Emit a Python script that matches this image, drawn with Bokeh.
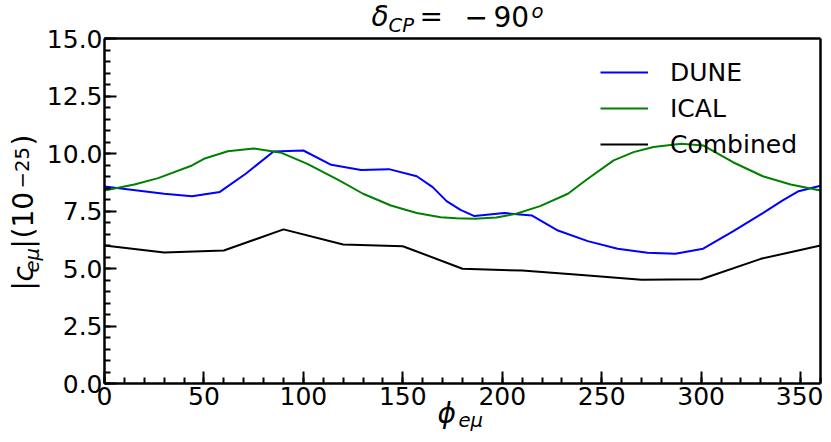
import math
from bokeh.plotting import figure
from bokeh.models import (Range1d, SingleIntervalTicker, FixedTicker, PrintfTickFormatter,
                          Label, Legend, LegendItem, LinearAxis)
from bokeh.embed import file_html
from bokeh.resources import INLINE

# ---------------- data ----------------
phi_dune = [0, 30, 44, 58, 71, 85, 100, 114, 129, 143, 157, 165, 172, 179, 186,
            201, 215, 228, 243, 258, 273, 287, 301, 316, 331, 341, 349, 360]
c_dune = [8.57, 8.25, 8.14, 8.33, 9.12, 10.09, 10.13, 9.51, 9.28, 9.32, 9.01, 8.54, 7.93, 7.55, 7.28,
          7.41, 7.30, 6.65, 6.19, 5.86, 5.68, 5.64, 5.86, 6.61, 7.41, 7.96, 8.36, 8.60]

phi_ical = [0, 15, 27, 44, 50, 62, 75, 89, 102, 118, 130, 144, 157, 169, 177, 186,
            197, 207, 219, 233, 243, 256, 266, 276, 290, 301, 316, 331, 345, 360]
c_ical = [8.39, 8.65, 8.93, 9.48, 9.77, 10.10, 10.22, 10.03, 9.55, 8.83, 8.25, 7.74, 7.41, 7.23, 7.19, 7.16,
          7.22, 7.38, 7.71, 8.25, 8.90, 9.70, 10.06, 10.28, 10.42, 10.35, 9.62, 9.01, 8.65, 8.39]

phi_comb = [0, 30, 60, 90, 120, 150, 180, 210, 240, 270, 300, 330, 360]
c_comb = [6.00, 5.70, 5.78, 6.70, 6.04, 5.97, 4.99, 4.91, 4.72, 4.51, 4.53, 5.42, 6.00]

series_names = ["DUNE", "ICAL", "Combined"]
series_colors = ["#0000ff", "#008000", "#000000"]

x_lo, x_hi = 0, 360
y_lo, y_hi = 0, 15

FONT = "DejaVu Sans"

# ---------------- canvas / mapping ----------------
W, H = 823, 434
AX_L, AX_R, AX_T, AX_B = 104, 820, 38, 383          # data box position on the canvas (px)
sx = (AX_R - AX_L) / (x_hi - x_lo)
sy = (AX_B - AX_T) / (y_hi - y_lo)
xr = Range1d(x_lo - AX_L / sx, x_lo + (W - AX_L) / sx)
yr = Range1d(y_lo - (H - AX_B) / sy, y_lo + AX_B / sy)

p = figure(width=W, height=H, output_backend="svg", toolbar_location=None,
           x_range=xr, y_range=yr, x_axis_type=None, y_axis_type=None,
           min_border=0, min_border_left=0, min_border_right=0,
           min_border_top=0, min_border_bottom=0)
p.title.visible = False
p.background_fill_color = "white"
p.border_fill_color = "white"
p.outline_line_color = None
p.grid.visible = False

r_dune = p.line(phi_dune, c_dune, line_color=series_colors[0], line_width=2)
r_ical = p.line(phi_ical, c_ical, line_color=series_colors[1], line_width=2)
r_comb = p.line(phi_comb, c_comb, line_color=series_colors[2], line_width=2)


def style_axis(ax):
    ax.axis_line_width = 2.5
    ax.axis_line_color = "black"
    ax.major_tick_in = 12
    ax.major_tick_out = 0
    ax.minor_tick_in = 6
    ax.minor_tick_out = 0
    ax.major_tick_line_width = 2
    ax.minor_tick_line_width = 2
    ax.major_tick_line_color = "black"
    ax.minor_tick_line_color = "black"
    ax.major_label_text_font = FONT
    ax.major_label_text_font_size = "25px"
    ax.major_label_text_color = "black"


xaxis = LinearAxis(fixed_location=y_lo, bounds=(x_lo, x_hi),
                   ticker=SingleIntervalTicker(interval=50, num_minor_ticks=5))
style_axis(xaxis)
xaxis.major_label_standoff = 3
p.add_layout(xaxis, "below")

yaxis = LinearAxis(fixed_location=x_lo, bounds=(y_lo, y_hi),
                   ticker=SingleIntervalTicker(interval=2.5, num_minor_ticks=5),
                   formatter=PrintfTickFormatter(format="%.1f"))
style_axis(yaxis)
yaxis.major_label_standoff = 2
p.add_layout(yaxis, "left")

# top and right spines (no ticks)
top = LinearAxis(fixed_location=y_hi, bounds=(x_lo, x_hi), ticker=FixedTicker(ticks=[], minor_ticks=[]),
                 axis_line_width=2.5, axis_line_color="black", major_label_text_alpha=0)
p.add_layout(top, "above")
right = LinearAxis(fixed_location=x_hi, bounds=(y_lo, y_hi), ticker=FixedTicker(ticks=[], minor_ticks=[]),
                   axis_line_width=2.5, axis_line_color="black", major_label_text_alpha=0)
p.add_layout(right, "right")

# legend
legend = Legend(items=[LegendItem(label=series_names[0], renderers=[r_dune]),
                       LegendItem(label=series_names[1], renderers=[r_ical]),
                       LegendItem(label=series_names[2], renderers=[r_comb])],
                location=(600, H - 162), padding=0, margin=0, spacing=0,
                glyph_width=48, glyph_height=36, label_height=36, label_standoff=22,
                label_text_font=FONT, label_text_font_size="25px", label_text_color="black",
                border_line_alpha=0, background_fill_alpha=0)
p.add_layout(legend, "center")

K = 0.45  # empirical baseline correction (fraction of font size)


def lab(text, X, Y, size, style="normal", rotated=False):
    # X, Y: wanted canvas position of the text's baseline start
    if rotated:
        X, Y, ang = X - K * size, Y, math.pi / 2
    else:
        X, Y, ang = X, Y - K * size, 0.0
    p.add_layout(Label(x=X, y=H - Y, x_units="screen", y_units="screen",
                       text=text, text_font=FONT, text_font_size=f"{size}px",
                       text_font_style=style, text_color="black",
                       text_align="left", text_baseline="alphabetic", angle=ang))


# title: delta_CP = -90^o
lab("δ", 371, 29, 28, "italic")
lab("CP", 388, 34, 19.6, "italic")
lab("=", 419, 29, 28)
lab("−", 464, 29, 28)
lab("90", 493, 29, 28)
lab("o", 531, 20, 19.6, "italic")

# x label: phi_e mu
lab("ϕ", 437, 426, 28, "italic")
lab("eμ", 458, 429, 19.6, "italic")

# y label: |c_e mu|(10^-25), rotated
lab("|", 36, 290, 28, "normal", True)
lab("c", 36, 281, 28, "italic", True)
lab("eμ", 41, 272, 19.6, "italic", True)
lab("|", 36, 248, 28, "normal", True)
lab("(10", 36, 238, 28, "normal", True)
lab("−25", 30, 188, 19.6, "normal", True)
lab(")", 36, 145, 28, "normal", True)

open("out.html", "w").write(file_html(p, INLINE))
